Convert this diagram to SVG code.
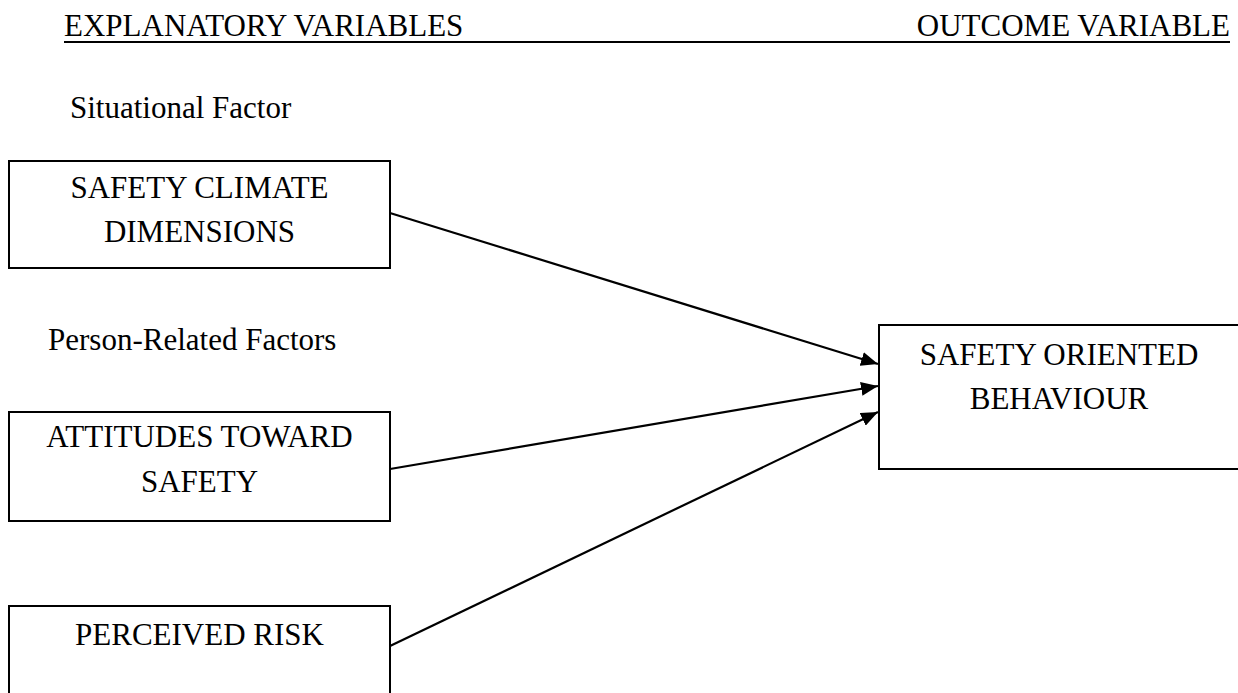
<svg xmlns="http://www.w3.org/2000/svg" width="1238" height="693" viewBox="0 0 1238 693">
<style>
  text { font-family: "Liberation Serif", "Times New Roman", serif; font-size: 31px; fill: #000; }
  .box { fill: #fff; stroke: #000; stroke-width: 2; }
  .conn { stroke: #000; stroke-width: 2.2; fill: none; marker-end: url(#arrow); }
  .mid { text-anchor: middle; }
</style>
<defs>
  <marker id="arrow" markerUnits="userSpaceOnUse" markerWidth="18" markerHeight="14" refX="17" refY="7" orient="auto">
    <path d="M0,0 L17,7 L0,14 Z" fill="#000"/>
  </marker>
</defs>
<rect width="1238" height="693" fill="#fff"/>
<g id="headers">
  <text x="64" y="36">EXPLANATORY VARIABLES</text>
  <text x="1230" y="36" text-anchor="end">OUTCOME VARIABLE</text>
  <line x1="64" y1="42" x2="1230" y2="42" stroke="#000" stroke-width="2"/>
</g>
<g id="section-labels">
  <text x="70" y="118">Situational Factor</text>
  <text x="48" y="350">Person-Related Factors</text>
</g>
<g id="connectors">
  <line class="conn" x1="390" y1="213" x2="878" y2="364"/>
  <line class="conn" x1="390" y1="469" x2="878" y2="386"/>
  <line class="conn" x1="390" y1="646" x2="878" y2="412"/>
</g>
<g id="node-safety-climate">
  <rect class="box" x="9" y="161" width="381" height="107"/>
  <text class="mid" x="199.5" y="198">SAFETY CLIMATE</text>
  <text class="mid" x="199.5" y="242">DIMENSIONS</text>
</g>
<g id="node-attitudes">
  <rect class="box" x="9" y="412" width="381" height="109"/>
  <text class="mid" x="199.5" y="447">ATTITUDES TOWARD</text>
  <text class="mid" x="199.5" y="492">SAFETY</text>
</g>
<g id="node-perceived-risk">
  <rect class="box" x="9" y="606" width="381" height="100"/>
  <text class="mid" x="199.5" y="645">PERCEIVED RISK</text>
</g>
<g id="node-safety-behaviour">
  <rect class="box" x="879" y="325" width="362" height="144"/>
  <text class="mid" x="1059" y="365">SAFETY ORIENTED</text>
  <text class="mid" x="1059" y="409">BEHAVIOUR</text>
</g>
</svg>
